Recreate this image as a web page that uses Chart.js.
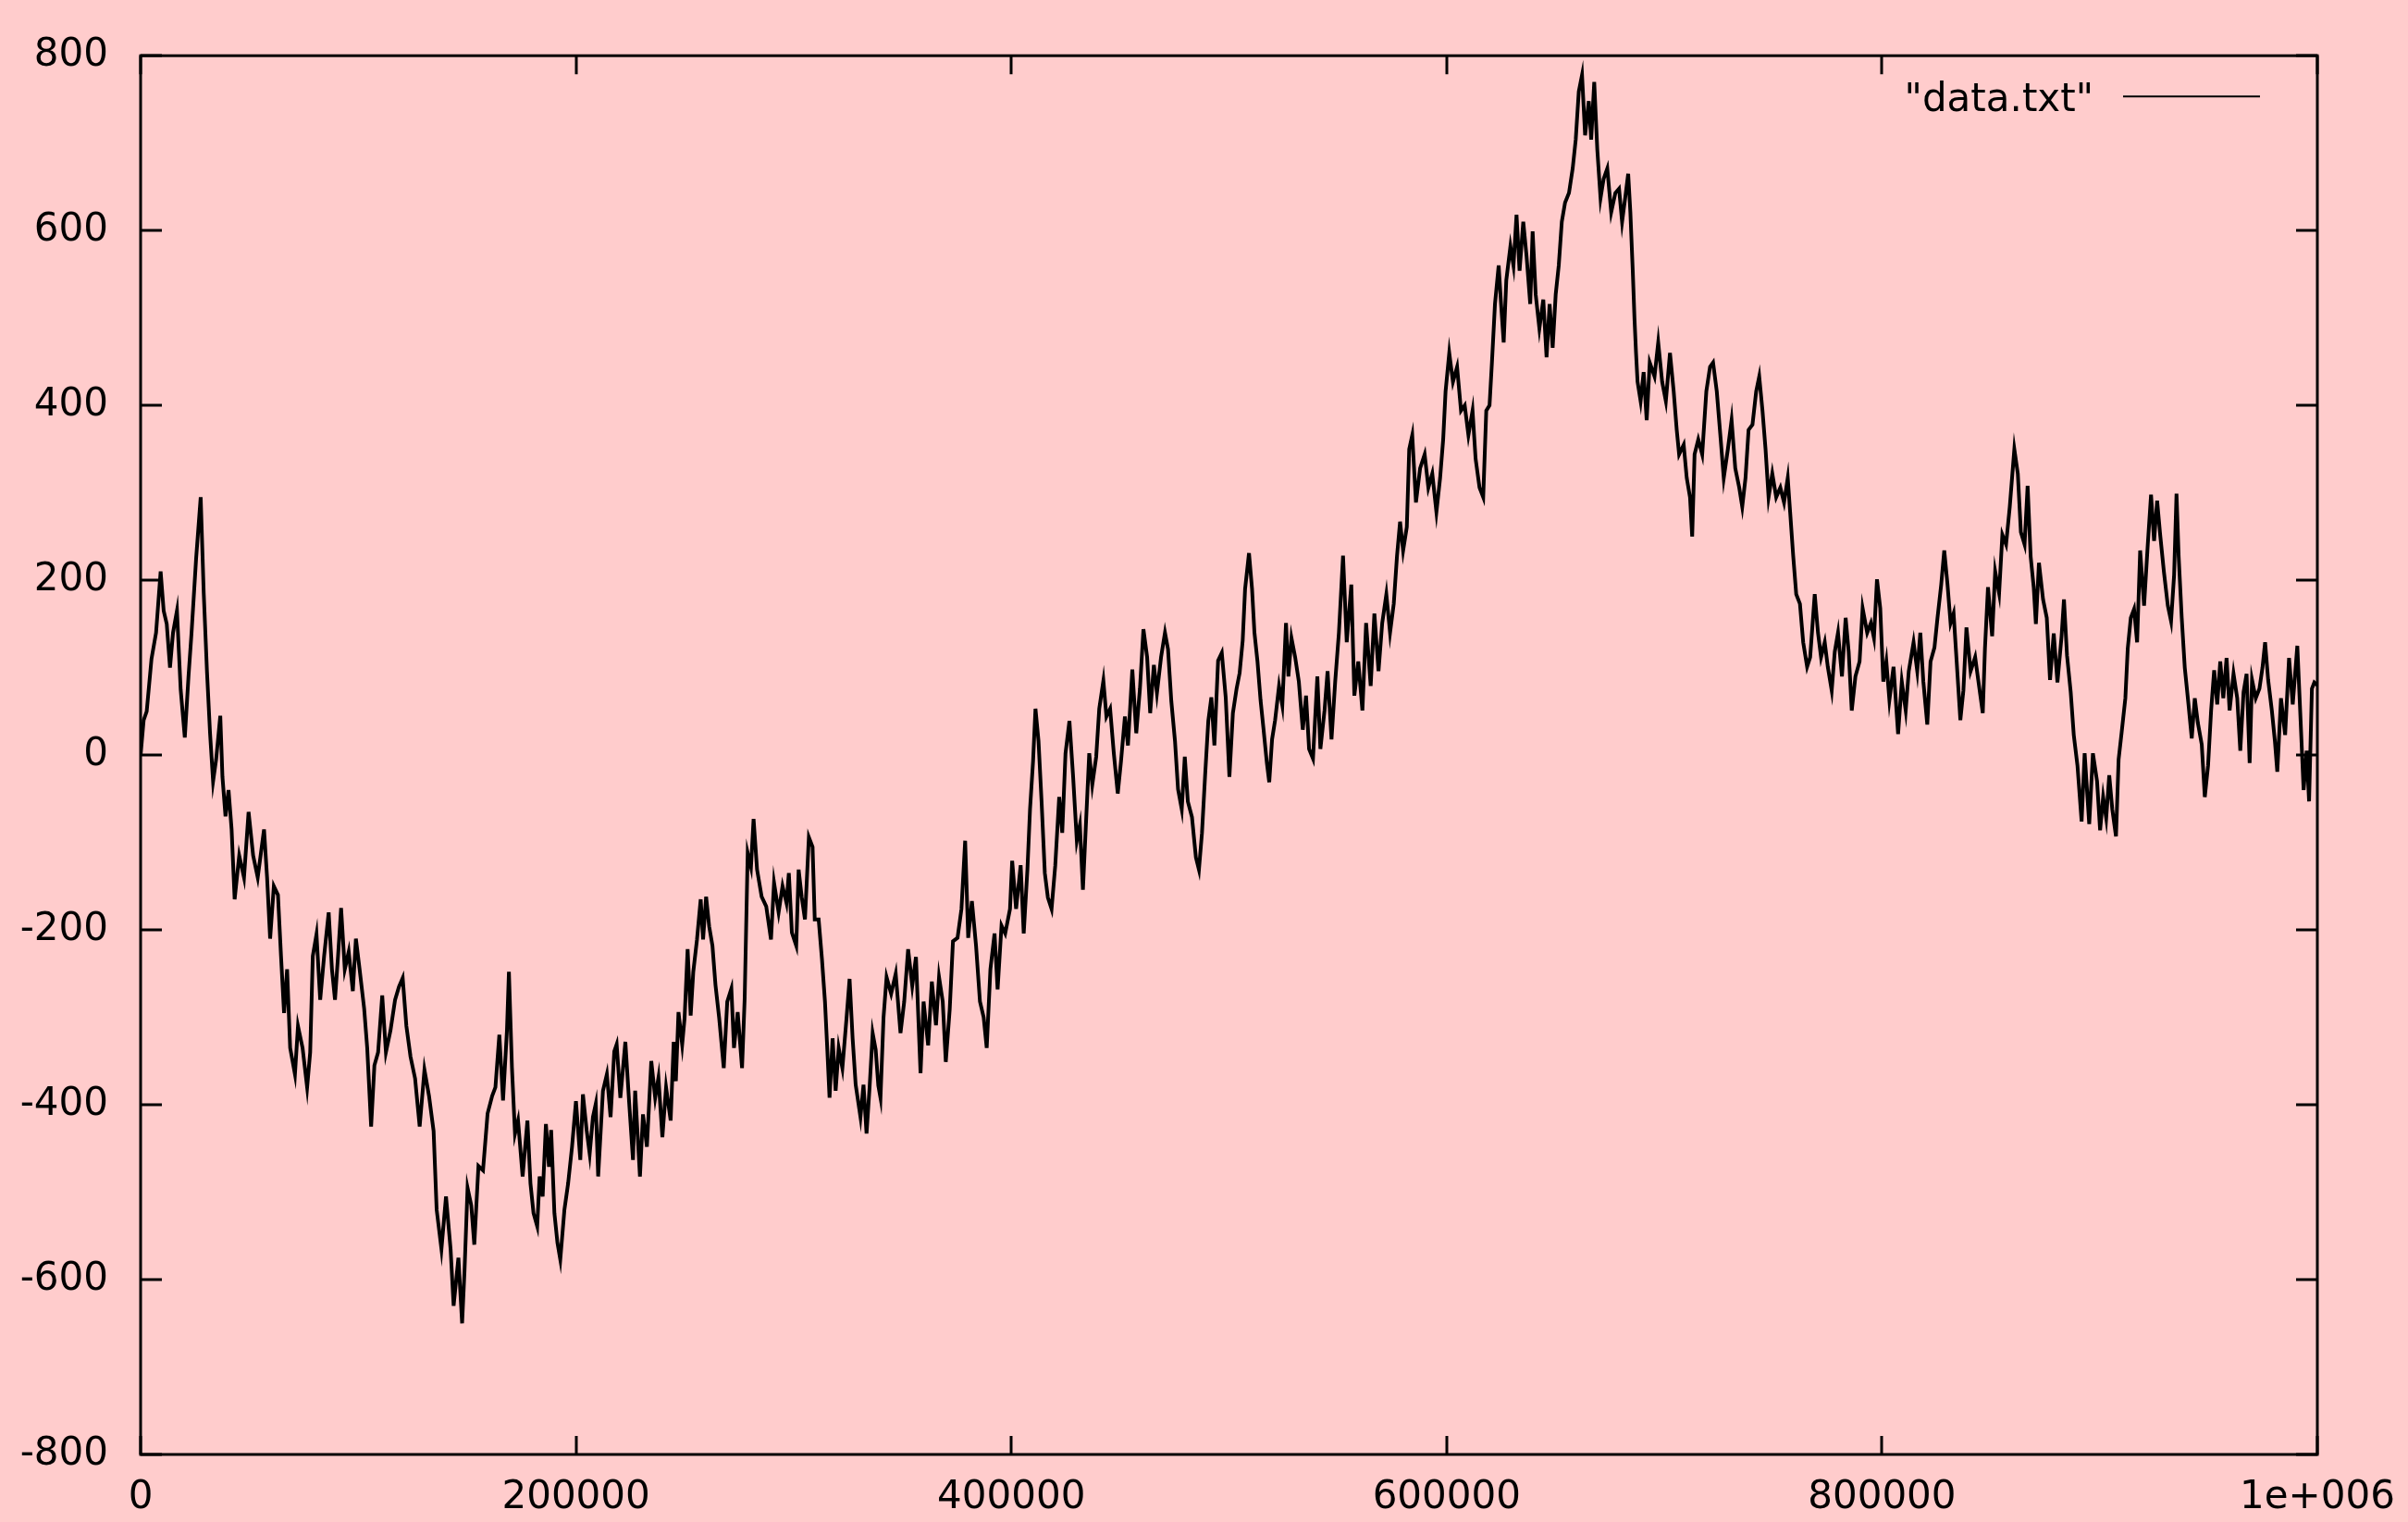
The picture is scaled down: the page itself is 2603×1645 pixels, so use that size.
<!DOCTYPE html>
<html>
<head>
<meta charset="utf-8">
<script src="https://cdn.jsdelivr.net/npm/chart.js@4.4.1/dist/chart.umd.min.js"></script>
<style>
    html, body { margin: 0; padding: 0; background: #ffcccc; overflow: hidden; }
    canvas { display: block; }
</style>
</head>
<body>
<canvas id="walk-chart" width="2603" height="1645"></canvas>
<script>
"use strict";

const seriesLabel = '"data.txt"';

// step number, in thousands
const steps = [
    0, 1.4, 2.8, 5.0, 7.1, 9.2, 10.6, 12.0, 13.5, 14.9, 16.7, 18.4, 20.3, 22.0, 23.4, 25.5, 27.6, 29.0, 30.5, 31.9,
    33.3, 34.7, 36.6, 37.6, 39.0, 40.4, 41.8, 43.2, 45.3, 47.5, 49.6, 51.7, 53.8, 56.7, 58.1, 59.5, 61.2, 63.1, 64.5, 65.9,
    67.3, 68.7, 70.9, 72.3, 74.4, 76.5, 77.9, 79.1, 80.8, 82.5, 84.3, 86.4, 87.9, 89.3, 90.7, 92.1, 93.8, 95.6, 97.5, 98.9,
    100.6, 102.7, 104.1, 105.9, 107.4, 109.1, 111.0, 112.7, 114.8, 116.9, 118.7, 120.4, 122.1, 124.0, 126.1, 128.2, 130.4, 132.5, 134.6, 136.0,
    138.2, 140.3, 142.4, 143.8, 146.0, 147.7, 148.8, 150.2, 151.9, 153.3, 155.2, 157.3, 159.4, 161.5, 163.0, 164.8, 166.5, 168.3, 169.2,
    170.6, 172.0, 173.4, 175.5, 177.7, 179.1, 180.5, 182.2, 183.3, 184.7, 186.2, 187.6, 188.6, 190.1, 191.5, 192.8, 194.7, 196.4, 198.2, 200.0,
    202.0, 203.2, 204.9, 206.3, 207.8, 209.1, 210.2, 212.4, 214.2, 215.9, 217.6, 218.7, 220.4, 222.7, 224.4, 226.2, 227.2, 229.4, 230.8, 232.6,
    234.6, 236.4, 237.9, 239.7, 241.4, 243.5, 244.9, 245.9, 247.1, 248.8, 249.9, 251.3, 252.7, 253.9, 255.6, 257.3, 258.4, 259.8, 261.2, 262.7,
    264.1, 265.8, 267.9, 269.5, 271.4, 272.6, 274.3, 276.3, 277.5, 278.9, 280.4, 281.6, 283.2, 285.3, 287.4, 289.6, 291.0, 293.1, 294.9, 296.7,
    297.8, 299.2, 301.2, 302.3, 303.7, 305.2, 307.0, 308.7, 309.7, 311.5, 313.0, 314.4, 315.3, 316.5, 317.9, 319.3, 320.7, 322.4, 324.3, 325.7,
    327.1, 328.5, 330.7, 332.1, 333.5, 334.9,
    336.3, 337.7, 338.9, 339.9, 341.3, 342.7, 344.8, 346.9, 349.1, 350.8, 352.6, 354.5, 356.2, 358.3, 359.7, 361.8, 363.5, 365.4, 366.8, 368.5,
    369.9, 371.7, 373.2, 375.3, 377.1, 378.8, 380.2, 381.9, 383.8, 385.6, 387.3, 388.7, 390.4, 392.3, 393.7, 395.5, 397.2, 399.4, 400.4, 402.2,
    404.3, 405.7, 407.4, 408.6, 410.0, 411.1, 412.5, 413.9, 415.4, 416.8, 418.5, 420.2, 422.0, 423.4, 424.9, 426.7, 428.4, 430.1, 431.5, 432.9,
    434.1, 435.8, 437.2, 439.0, 440.4, 442.3, 443.7, 445.4, 447.1, 448.9, 450.4, 452.2, 453.6, 455.6, 457.4, 459.1, 460.7, 462.4, 463.8, 465.5,
    466.9, 468.8, 470.6, 472.0, 473.5, 475.2, 476.6, 478.3, 479.7, 481.1, 483.0, 484.8, 486.2, 487.6, 489.0, 490.5, 491.9, 493.3, 495.0, 496.7,
    498.5, 500.2, 501.8, 503.5, 504.9, 506.3, 507.4,
    509.2, 510.6, 511.7, 513.1, 514.5, 515.9, 517.4, 518.5, 519.8, 521.2, 523.0, 524.5, 526.2, 527.3, 528.7, 530.4, 532.1, 533.9, 535.4, 536.8,
    538.6, 540.6, 542.0, 543.9, 545.3, 547.1, 548.8, 550.5, 552.4, 554.1, 556.2, 557.6, 559.4, 561.3, 563.0, 565.1, 566.8, 568.7, 570.4, 572.3,
    574.0, 575.7, 577.2, 578.6, 580.0, 581.7, 582.8, 584.2, 585.9, 587.8, 589.9, 591.6, 593.4, 595.3, 597.0, 598.4, 599.5, 601.2, 602.9, 604.8,
    606.6, 608.3, 610.0, 611.9, 613.3, 615.1, 616.8, 618.2, 619.7, 620.8, 622.2, 623.9, 625.0, 626.2, 627.4, 629.3, 630.7, 632.1, 633.5, 635.2,
    636.7, 638.4, 639.5, 640.9, 642.6, 644.4, 645.9, 647.3, 648.7, 650.1, 651.5, 652.9, 654.4, 656.2, 657.9, 659.3, 660.7, 662.2, 663.6, 665.3,
    666.4, 667.8, 669.2, 670.7, 672.1, 673.8, 675.6, 677.5,
    679.2, 680.6, 682.0, 683.4, 684.4, 685.5, 686.3, 687.0, 687.7, 689.1, 690.5, 691.9, 693.3, 695.5, 697.2, 699.0, 700.7, 702.6, 704.3, 705.7,
    706.8, 708.9, 710.3, 711.8, 712.8, 713.9, 715.6, 717.4, 719.3, 721.0, 722.4, 724.1, 725.9, 727.3, 729.2, 730.9, 732.6, 734.4, 735.8, 737.3,
    738.7, 740.5, 742.2, 743.6, 745.1, 746.5, 747.9, 749.6, 751.4, 753.3, 755.0, 756.7, 757.8, 759.2, 760.6, 762.3, 763.8, 765.6, 767.0, 769.1,
    770.6, 772.0, 773.7, 775.1, 776.9, 778.3, 779.8, 781.6, 783.3, 784.7, 786.1, 787.8, 789.7, 791.1, 793.2, 794.9, 796.3, 797.7, 799.2, 800.6,
    802.0, 803.4, 805.3, 807.4, 809.1, 810.9, 812.3, 814.5, 816.2, 817.6, 819.0, 820.8, 822.3, 824.1, 825.5, 827.2, 828.6, 830.1, 831.5, 832.9,
    834.3, 836.0, 837.4, 838.8, 840.7, 842.8,
    844.2, 846.3, 847.3, 848.7, 850.6, 852.0, 853.8, 855.3, 857.0, 858.7, 860.8, 862.4, 863.8, 865.5, 866.9, 868.3, 869.7, 870.7, 872.1, 874.0,
    875.7, 877.2, 878.9, 880.6, 882.5, 883.6, 885.0, 886.7, 888.1, 889.8, 891.7, 893.1, 895.2, 896.9, 898.8, 900.2, 901.6, 903.0, 904.4, 905.8,
    907.5, 908.7, 910.1, 911.8, 912.9, 914.3, 915.8, 917.2, 918.6, 920.4, 922.1, 923.6, 925.0, 926.4, 927.8, 929.5, 931.3, 932.8, 934.2, 935.3,
    936.3, 937.7, 939.1, 940.8, 942.3, 943.7, 945.1, 946.9, 948.3, 949.8, 951.2, 952.6, 954.0, 955.4, 956.8, 958.3, 959.7, 961.5, 963.2, 964.6,
    966.1, 967.5, 968.9, 970.0, 971.7, 973.4, 974.8, 976.0, 977.4, 979.1, 980.5, 981.6, 983.3, 985.2, 987.0, 988.7, 990.8, 992.3, 993.7, 995.1,
    996.2, 997.5, 998.6, 1000
];

// walk position at each of those steps
const positions = [
    0, 40, 50, 110, 140, 210, 165, 150, 100, 140, 165, 75, 20, 90, 140, 225, 295, 185, 95, 25,
    -30, -5, 45, -25, -70, -40, -85, -165, -115, -140, -65, -115, -140, -85, -140, -210, -150, -160, -230, -295,
    -245, -335, -365, -310, -335, -380, -340, -230, -205, -280, -230, -180, -245, -280, -230, -175, -245, -225, -270, -210,
    -245, -290, -335, -425, -355, -340, -275, -340, -315, -280, -265, -255, -310, -345, -370, -425, -360, -390, -430, -520,
    -565, -505, -565, -630, -575, -650, -590, -495, -515, -560, -470, -475, -410, -390, -380, -320, -395, -315, -248,
    -358, -433, -418, -482, -418, -490, -524, -539, -482, -505, -422, -471, -429, -524, -558, -577, -520, -490, -448, -396,
    -463, -388, -429, -456, -414, -399, -482, -384, -365, -414, -339, -331, -392, -328, -396, -463, -384, -482, -411, -448,
    -350, -392, -369, -437, -380, -418, -328, -373, -294, -331, -301, -222, -298, -248, -211, -165, -211, -162, -196, -218,
    -263, -301, -358, -282, -267, -335, -294, -358, -279, -112, -128, -73, -131, -162, -173, -211, -146, -180, -150, -169,
    -135, -203, -218, -131, -162, -188, -94, -105, -188, -188, -233, -282, -328, -392, -324, -384, -335, -358, -301, -256,
    -324, -377, -414, -377, -433, -380,
    -318, -337, -378, -392, -300, -254, -273, -250, -318, -282, -222, -264, -231, -364, -282, -332, -259, -309, -254, -282,
    -351, -291, -213, -209, -176, -98, -209, -167, -218, -282, -300, -335, -245, -204, -268, -195, -204, -176, -121, -176,
    -126, -204, -131, -62, -7, 53, 16, -53, -135, -163, -176, -126, -48, -89, 2, 39, -25, -98, -80, -154,
    -89, 2, -34, -2, 53, 85, 44, 53, 2, -44, -7, 44, 11, 98, 25, 76, 144, 112, 48, 103,
    71, 112, 140, 121, 62, 16, -39, -62, -2, -53, -71, -117, -131, -89, -25, 39, 66, 11, 108, 117,
    66, -25, 48, 76, 94, 131, 190,
    231, 190, 140, 107, 63, 29, -9, -31, 18, 40, 79, 57, 151, 90, 134, 112, 84, 29, 68, 7,
    -4, 90, 7, 51, 96, 18, 84, 140, 228, 129, 195, 68, 107, 51, 151, 79, 162, 96, 151, 184,
    140, 173, 228, 267, 234, 261, 350, 366, 289, 328, 344, 306, 322, 278, 317, 361, 416, 460, 427, 444,
    394, 400, 366, 394, 339, 306, 295, 394, 400, 449, 516, 560, 516, 472, 543, 582, 560, 618, 554, 610,
    571, 516, 599, 527, 488, 521, 455, 516, 466, 527, 560, 610, 632, 643, 671, 704, 759, 778, 709, 748,
    704, 770, 693, 637, 659, 671, 621, 643,
    648, 610, 637, 665, 621, 554, 499, 460, 427, 405, 438, 383, 449, 433, 472, 427, 405, 460, 416, 372,
    344, 355, 317, 295, 250, 344, 361, 344, 416, 444, 449, 416, 361, 317, 350, 383, 328, 306, 284, 317,
    372, 378, 416, 433, 394, 350, 295, 322, 295, 306, 289, 317, 278, 228, 184, 173, 129, 101, 112, 184,
    140, 112, 129, 101, 74, 118, 140, 90, 157, 118, 51, 90, 107, 168, 140, 151, 134, 201, 168, 84,
    107, 63, 101, 24, 84, 51, 96, 129, 96, 140, 84, 35, 107, 123, 157, 195, 234, 195, 151, 162,
    107, 40, 74, 146, 96, 112,
    86, 48, 122, 192, 136, 210, 185, 252, 241, 284, 350, 322, 255, 241, 308, 227, 192, 150, 220, 178,
    157, 86, 139, 83, 136, 178, 114, 72, 23, -12, -76, 2, -79, 2, -30, -86, -48, -72, -23, -62,
    -93, -5, 26, 65, 122, 157, 167, 129, 234, 171, 241, 298, 245, 291, 252, 210, 171, 153, 206, 299,
    227, 157, 100, 58, 19, 65, 37, 12, -48, -12, 51, 97, 58, 107, 65, 111, 51, 93, 65, 5,
    72, 93, -9, 86, 65, 76, 100, 129, 86, 51, 16, -19, 65, 23, 111, 58, 125, 40, -40, 5,
    -53, 76, 83, 80
];

const yTicks = [-800, -600, -400, -200, 0, 200, 400, 600, 800];
const xTickValues = [0, 200, 400, 600, 800, 1000];
const xTickLabels = ['0', '200000', '400000', '600000', '800000', '1e+006'];

const tickFont = { family: '"DejaVu Sans", sans-serif', size: 42 };

// gnuplot style frame: box, inward ticks on all four sides, key in the top right
const gnuplotFrame = {
    id: 'gnuplotFrame',
    afterDatasetsDraw(chart) {
        const { ctx, chartArea: area, scales } = chart;
        ctx.save();
        ctx.strokeStyle = '#000000';
        ctx.lineWidth = 3;
        ctx.strokeRect(area.left, area.top, area.right - area.left, area.bottom - area.top);

        ctx.beginPath();
        yTicks.forEach(v => {
            const py = Math.round(scales.y.getPixelForValue(v));
            ctx.moveTo(area.left, py);
            ctx.lineTo(area.left + 23, py);
            ctx.moveTo(area.right, py);
            ctx.lineTo(area.right - 23, py);
        });
        xTickValues.forEach(v => {
            const px = Math.round(scales.x.getPixelForValue(v));
            ctx.moveTo(px, area.bottom);
            ctx.lineTo(px, area.bottom - 20);
            ctx.moveTo(px, area.top);
            ctx.lineTo(px, area.top + 20);
        });
        ctx.stroke();

        // key
        ctx.font = '42px "DejaVu Sans", sans-serif';
        ctx.fillStyle = '#000000';
        ctx.textAlign = 'right';
        ctx.textBaseline = 'alphabetic';
        ctx.fillText(seriesLabel, area.right - 242, area.top + 60);
        ctx.lineWidth = 2;
        ctx.beginPath();
        ctx.moveTo(area.right - 210, area.top + 44);
        ctx.lineTo(area.right - 62, area.top + 44);
        ctx.stroke();
        ctx.restore();
    }
};

const ctx = document.getElementById('walk-chart').getContext('2d');

new Chart(ctx, {
    type: 'line',
    data: {
        datasets: [{
            label: seriesLabel,
            data: steps.map((s, i) => ({ x: s, y: positions[i] })),
            borderColor: '#000000',
            borderWidth: 4,
            pointRadius: 0,
            tension: 0,
            fill: false
        }]
    },
    options: {
        responsive: false,
        animation: false,
        devicePixelRatio: 1,
        parsing: false,
        layout: {
            padding: { top: 58, right: 98, bottom: 0, left: 0 }
        },
        plugins: {
            legend: { display: false },
            tooltip: { enabled: false }
        },
        scales: {
            x: {
                type: 'linear',
                min: 0,
                max: 1000,
                afterBuildTicks: scale => {
                    scale.ticks = xTickValues.map(v => ({ value: v }));
                },
                afterFit: scale => {
                    // the layout padding already leaves room for the last label
                    scale.height = 73;
                    scale.paddingLeft = 0;
                    scale.paddingRight = 0;
                },
                grid: { display: false, drawTicks: false },
                border: { display: false },
                ticks: {
                    color: '#000000',
                    font: tickFont,
                    padding: 22,
                    maxRotation: 0,
                    autoSkip: false,
                    callback: value => xTickLabels[xTickValues.indexOf(value)]
                }
            },
            y: {
                min: -800,
                max: 800,
                afterBuildTicks: scale => {
                    scale.ticks = yTicks.map(v => ({ value: v }));
                },
                afterFit: scale => {
                    scale.width = 152;
                },
                grid: { display: false, drawTicks: false },
                border: { display: false },
                ticks: {
                    color: '#000000',
                    font: tickFont,
                    padding: 35,
                    autoSkip: false,
                    callback: value => String(value)
                }
            }
        }
    },
    plugins: [gnuplotFrame]
});
</script>
</body>
</html>
